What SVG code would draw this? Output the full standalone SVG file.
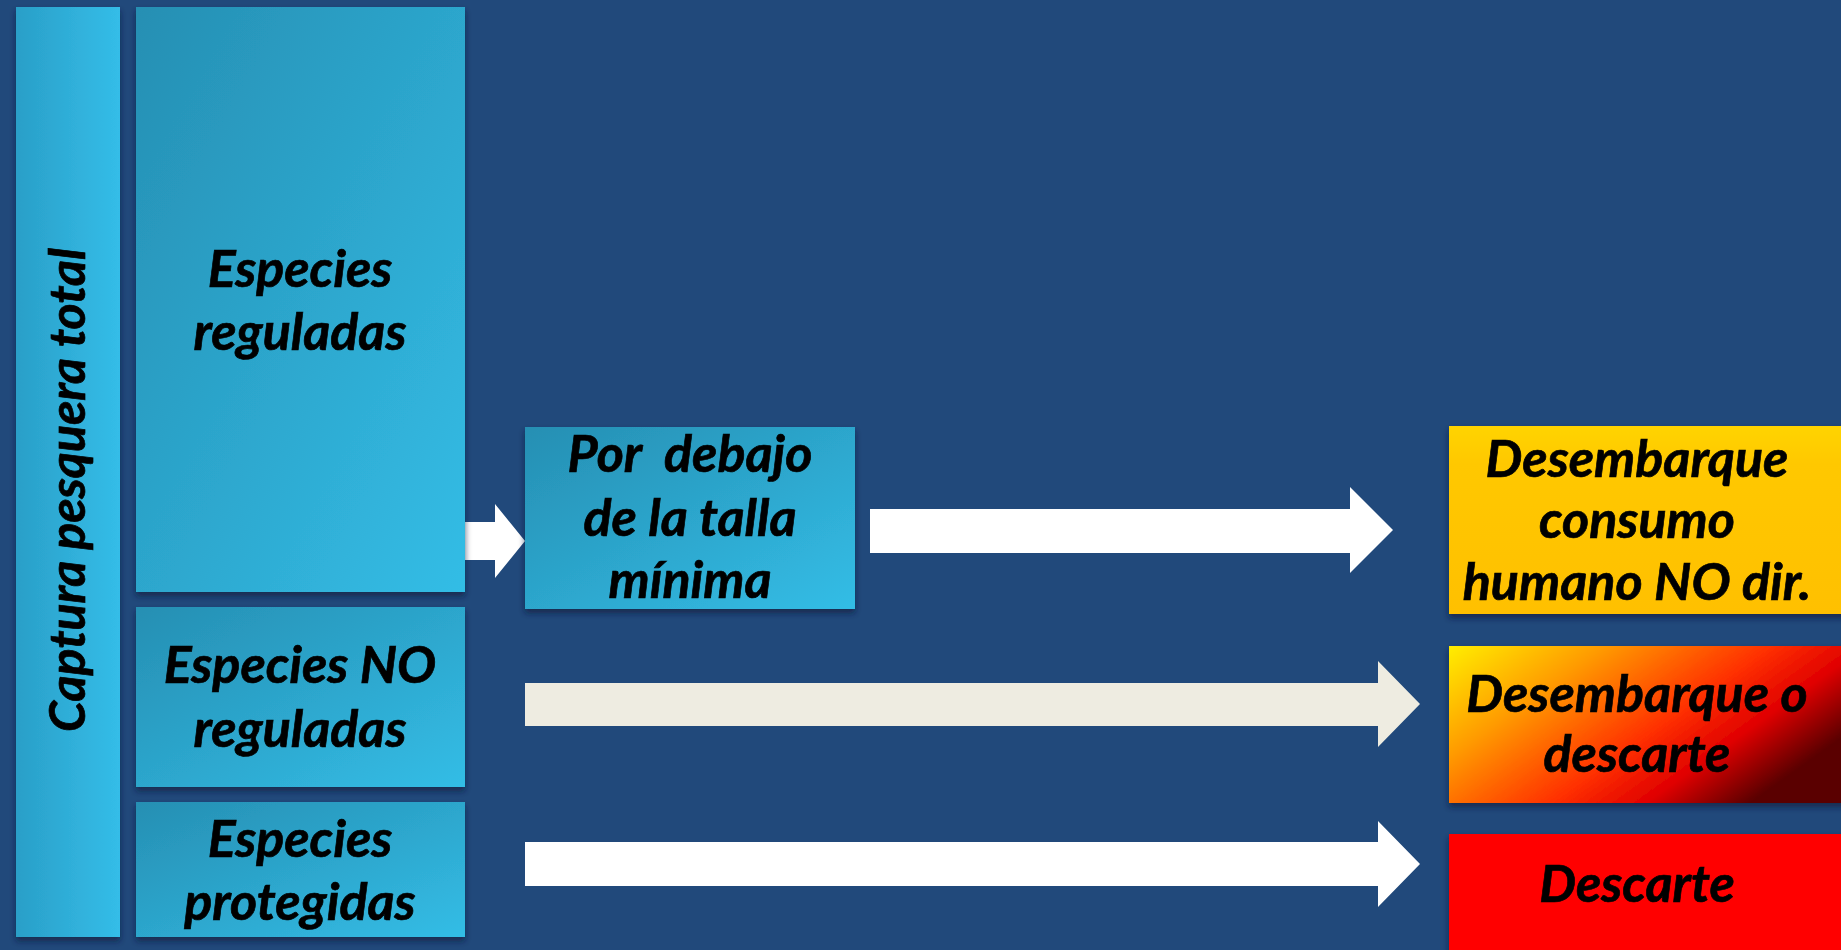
<svg xmlns="http://www.w3.org/2000/svg" width="1841" height="950" viewBox="0 0 1841 950">
<defs>
<linearGradient id="cyan" x1="0" y1="0" x2="1" y2="1">
<stop offset="0" stop-color="#268fb3"/>
<stop offset="1" stop-color="#33bde6"/>
</linearGradient>
<linearGradient id="cyanCol" x1="0" y1="0" x2="1" y2="0">
<stop offset="0" stop-color="#2a9fc8"/>
<stop offset="1" stop-color="#34bde8"/>
</linearGradient>
<linearGradient id="yellow" x1="0" y1="0" x2="0" y2="1">
<stop offset="0" stop-color="#ffd400"/>
<stop offset="0.2" stop-color="#ffc800"/>
<stop offset="1" stop-color="#ffc000"/>
</linearGradient>
<linearGradient id="fire" x1="0" y1="0" x2="1" y2="0.55">
<stop offset="0" stop-color="#ffee00"/>
<stop offset="0.3" stop-color="#ff9a00"/>
<stop offset="0.62" stop-color="#ff3000"/>
<stop offset="0.8" stop-color="#e00000"/>
<stop offset="1" stop-color="#5a0000"/>
</linearGradient>
<filter id="sh" x="-10%" y="-10%" width="120%" height="130%">
<feDropShadow dx="0" dy="4" stdDeviation="3" flood-color="#0a1f3a" flood-opacity="0.7"/>
</filter>
<style>
.t{font-family:Lato,"Liberation Sans",sans-serif;font-weight:bold;font-style:italic;font-size:52px;fill:#000;stroke:#000;stroke-width:0.7;text-anchor:middle}
.v{font-size:50px}
.box{filter:url(#sh)}
</style>
</defs>
<rect width="1841" height="950" fill="#21497b"/>

<g id="connectors">
<polygon points="465,522 495,522 495,504 525,541 495,578 495,560 465,560" fill="#ffffff"/>
<polygon points="870,509 1350,509 1350,487 1393,530 1350,573 1350,553 870,553" fill="#ffffff"/>
<polygon points="525,683 1378,683 1378,661 1420,704 1378,747 1378,726 525,726" fill="#eeece1"/>
<polygon points="525,842 1378,842 1378,821 1420,864 1378,907 1378,886 525,886" fill="#ffffff"/>
</g>

<g id="captura">
<rect class="box" x="16" y="7" width="104" height="930" fill="url(#cyanCol)"/>
<text class="t v" transform="translate(85,490) rotate(-90)">Captura pesquera total</text>
</g>

<g id="reguladas">
<rect class="box" x="136" y="7" width="329" height="585" fill="url(#cyan)"/>
<text class="t" x="300" y="287">Especies</text>
<text class="t" x="300" y="350">reguladas</text>
</g>

<g id="no-reguladas">
<rect class="box" x="136" y="607" width="329" height="180" fill="url(#cyan)"/>
<text class="t" x="300" y="683">Especies NO</text>
<text class="t" x="300" y="747">reguladas</text>
</g>

<g id="protegidas">
<rect class="box" x="136" y="802" width="329" height="135" fill="url(#cyan)"/>
<text class="t" x="300" y="857">Especies</text>
<text class="t" x="300" y="920">protegidas</text>
</g>

<g id="talla-minima">
<rect class="box" x="525" y="427" width="330" height="182" fill="url(#cyan)"/>
<text class="t" x="690" y="472" xml:space="preserve">Por  debajo</text>
<text class="t" x="690" y="536">de la talla</text>
<text class="t" x="690" y="598">mínima</text>
</g>

<g id="consumo">
<rect class="box" x="1449" y="426" width="400" height="188" fill="url(#yellow)"/>
<text class="t" x="1637" y="477">Desembarque</text>
<text class="t" x="1637" y="538">consumo</text>
<text class="t" x="1637" y="600">humano NO dir.</text>
</g>

<g id="desembarque-descarte">
<rect class="box" x="1449" y="646" width="400" height="157" fill="url(#fire)"/>
<text class="t" x="1637" y="712">Desembarque o</text>
<text class="t" x="1637" y="772">descarte</text>
</g>

<g id="descarte">
<rect class="box" x="1449" y="834" width="400" height="130" fill="#ff0000"/>
<text class="t" x="1637" y="902">Descarte</text>
</g>
</svg>
